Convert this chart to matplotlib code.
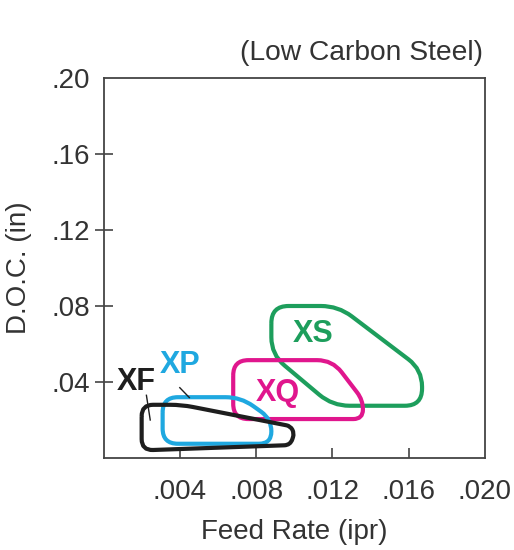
import numpy as np
import matplotlib
matplotlib.use("Agg")
import matplotlib.pyplot as plt
from matplotlib.path import Path
from matplotlib.patches import PathPatch

plt.rcParams['font.family'] = ['Liberation Sans', 'DejaVu Sans']

# Axis ticks
x_ticks = [0.004, 0.008, 0.012, 0.016, 0.020]
x_tick_labels = ['.004', '.008', '.012', '.016', '.020']
y_ticks = [0.04, 0.08, 0.12, 0.16, 0.20]
y_tick_labels = ['.04', '.08', '.12', '.16', '.20']

# Application regions (feed rate ipr, depth of cut in)
xs_feed = [0.0088, 0.0123, 0.0167, 0.0167, 0.0120, 0.0088]
xs_doc = [0.0800, 0.0800, 0.0465, 0.0275, 0.0275, 0.0545]
xq_feed = [0.0068, 0.0120, 0.0136, 0.0136, 0.0068]
xq_doc = [0.0515, 0.0515, 0.0305, 0.0205, 0.0205]
xp_feed = [0.0031, 0.0072, 0.0088, 0.0088, 0.0031]
xp_doc = [0.0320, 0.0320, 0.0205, 0.0075, 0.0075]
xf_feed = [0.0020, 0.0041, 0.0098, 0.0100, 0.0098, 0.0020]
xf_doc = [0.0280, 0.0280, 0.0168, 0.0130, 0.0068, 0.0040]

grades = ['XS', 'XQ', 'XP', 'XF']
grade_colors = ['#1d9e5c', '#e0168d', '#1fa8e0', '#1e1e1e']
label_feed = [0.0110, 0.00915, 0.0040, 0.0017]
label_doc = [0.0650, 0.0340, 0.0490, 0.0400]

XMAX, YMAX = 0.020, 0.20


def rounded_path(xd, yd, r):
    # rounding done in axes-fraction space to keep corners circular-looking
    pts = np.column_stack([np.array(xd) / XMAX, np.array(yd) / YMAX])
    n = len(pts)
    verts, codes = [], []
    for i in range(n):
        v = pts[i]
        p = pts[i - 1]
        q = pts[(i + 1) % n]
        d1 = p - v
        d2 = q - v
        l1 = np.hypot(*d1)
        l2 = np.hypot(*d2)
        rr = min(r, l1 / 2.0, l2 / 2.0)
        pin = v + d1 / l1 * rr
        pout = v + d2 / l2 * rr
        if i == 0:
            verts.append(pin); codes.append(Path.MOVETO)
        else:
            verts.append(pin); codes.append(Path.LINETO)
        verts.append(v); codes.append(Path.CURVE3)
        verts.append(pout); codes.append(Path.CURVE3)
    verts.append(verts[0]); codes.append(Path.LINETO)
    verts = np.array(verts)
    verts[:, 0] *= XMAX
    verts[:, 1] *= YMAX
    return Path(verts, codes)


fig = plt.figure(figsize=(5.14, 5.5), dpi=100)
ax = fig.add_axes([103.5 / 514, 92 / 550, 381.5 / 514, 380 / 550])
ax.set_xlim(0, XMAX)
ax.set_ylim(0, YMAX)

shapes = [(xs_feed, xs_doc, 0.045), (xq_feed, xq_doc, 0.04),
          (xp_feed, xp_doc, 0.04), (xf_feed, xf_doc, 0.03)]
for (fx, fy, r), c in zip(shapes, grade_colors):
    patch = PathPatch(rounded_path(fx, fy, r), facecolor='none', edgecolor=c,
                      lw=3.0, joinstyle='round', zorder=3)
    ax.add_patch(patch)

for g, c, lx, ly in zip(grades, grade_colors, label_feed, label_doc):
    ax.text(lx, ly, g, color=c, fontsize=22, fontweight='bold',
            ha='center', va='center', zorder=4)

# leader lines
ax.plot([0.0040, 0.0045], [0.0370, 0.0318], color='#1e1e1e', lw=1.0, zorder=4)
ax.plot([0.00225, 0.00245], [0.0330, 0.0200], color='#1e1e1e', lw=1.0, zorder=4)

text_color = '#333333'
for s in ax.spines.values():
    s.set_color('#444444')
    s.set_linewidth(1.3)

ax.set_xticks(x_ticks)
ax.set_xticklabels(x_tick_labels)
ax.set_yticks(y_ticks)
ax.set_yticklabels(y_tick_labels)
ax.tick_params(axis='x', direction='in', length=7, width=1.2, color='#444444',
               labelsize=20, labelcolor=text_color, pad=15)
ax.tick_params(axis='y', direction='inout', length=13, width=1.2, color='#444444',
               labelsize=20, labelcolor=text_color, pad=3)
ax.xaxis.get_major_ticks()[-1].tick1line.set_visible(False)
ax.yaxis.get_major_ticks()[-1].tick1line.set_visible(False)

ax.set_xlabel('Feed Rate (ipr)', fontsize=20, color=text_color, labelpad=10)
ax.set_ylabel('D.O.C. (in)', fontsize=20, color=text_color, labelpad=14)
fig.text(483 / 514, 1 - 53 / 550, '(Low Carbon Steel)', fontsize=20.3,
         color=text_color, ha='right', va='center')

fig.savefig('out.png', dpi=100)
